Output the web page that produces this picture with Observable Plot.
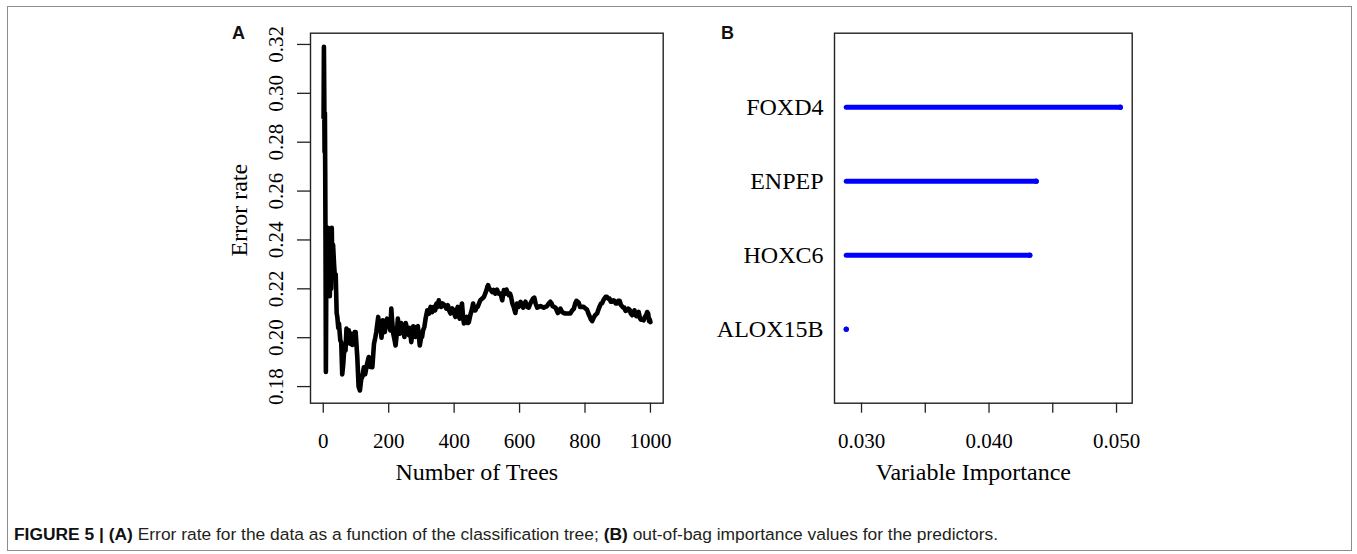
<!DOCTYPE html>
<html>
<head>
<meta charset="utf-8">
<script src="https://cdn.jsdelivr.net/npm/d3@7"></script>
<script src="https://cdn.jsdelivr.net/npm/@observablehq/plot@0.6"></script>
<style>
  body { margin: 0; background: #fff; }
  #fig { position: relative; width: 1357px; height: 554px; overflow: hidden; background: #fff; }
  #border { position: absolute; left: 7px; top: 6px; width: 1345px; height: 545px; border: 1px solid #8c8c8c; box-sizing: border-box; }
  .panel { position: absolute; top: 0; }
  .tag { position: absolute; font: bold 18px "Liberation Sans", Arial, sans-serif; color: #111; line-height: 1; }
  #caption { position: absolute; left: 14px; top: 524px; font: 17.4px "Liberation Sans Narrow", "Liberation Sans", Arial, sans-serif; color: #231f20; white-space: nowrap; line-height: 20px; }
  #caption b { color: #111; }
</style>
</head>
<body>
<div id="fig">
  <div id="border"></div>
  <div class="tag" style="left:232px;top:24px">A</div>
  <div class="tag" style="left:721px;top:24px">B</div>
  <div id="panelA" class="panel" style="left:220px"></div>
  <div id="panelB" class="panel" style="left:700px"></div>
  <div id="caption"><b>FIGURE 5 | (A)</b> Error rate for the data as a function of the classification tree; <b>(B)</b> out-of-bag importance values for the predictors.</div>
</div>
<script>
// Panel A: out-of-bag error rate as trees are added to the forest
const trees = [1,2,3,4,5,6,7,8,9,10,12,14,16,18,20,22,24,26,28,30,33,36,38,41,43,46,48,52,55,58,61,64,68,71,75,78,82,86,89,92,96,99,104,108,112,116,119,124,128,134,139,144,150,155,159,162,168,172,175,178,182,188,192,195,201,205,208,211,214,218,221,225,228,231,234,238,241,245,248,252,255,258,262,265,269,272,275,279,282,286,289,292,295,299,302,305,309,313,318,323,328,333,338,342,346,350,353,356,360,365,371,376,381,385,389,394,399,402,404,408,411,414,417,421,424,427,430,434,438,442,445,449,452,455,458,462,465,469,472,476,480,486,491,495,499,502,504,507,511,516,521,526,531,536,542,547,552,556,560,563,567,571,574,578,582,587,592,597,603,607,611,615,618,623,628,633,638,641,645,649,654,659,664,669,674,679,684,689,694,698,701,706,710,714,717,721,725,730,735,740,745,750,755,760,766,770,774,778,781,785,788,792,796,801,806,810,814,818,822,826,829,833,837,841,845,849,852,856,859,863,867,871,875,879,883,887,890,894,898,902,906,910,913,917,920,924,928,932,936,940,944,948,951,954,957,961,964,968,971,975,979,983,987,990,993,996,998,1000];
const errorRate = [0.290,0.319,0.300,0.276,0.292,0.268,0.235,0.186,0.215,0.244,0.217,0.245,0.222,0.243,0.217,0.240,0.220,0.245,0.225,0.238,0.230,0.224,0.226,0.210,0.2085,0.204,0.2058,0.199,0.198,0.185,0.189,0.195,0.1948,0.2037,0.1985,0.2030,0.1975,0.2016,0.1970,0.1975,0.2023,0.2023,0.1921,0.1800,0.1784,0.1830,0.1838,0.1879,0.1850,0.1893,0.1921,0.1880,0.1879,0.1975,0.2000,0.2023,0.2085,0.2030,0.2044,0.2000,0.2071,0.2023,0.2060,0.2078,0.2058,0.2030,0.2119,0.2060,0.2016,0.1990,0.1968,0.2020,0.2078,0.2040,0.2016,0.2060,0.2044,0.2030,0.2003,0.2060,0.2044,0.2016,0.2010,0.2040,0.1982,0.2016,0.2047,0.2030,0.2003,0.2044,0.2047,0.2010,0.1968,0.2000,0.2003,0.2030,0.2044,0.2080,0.2112,0.2098,0.2126,0.2105,0.2126,0.2112,0.2140,0.2126,0.2153,0.2133,0.2126,0.2140,0.2133,0.2119,0.2133,0.2110,0.2099,0.2120,0.2112,0.2092,0.2085,0.2112,0.2126,0.2100,0.2078,0.2120,0.2140,0.2090,0.2058,0.2080,0.2085,0.2060,0.2064,0.2090,0.2105,0.2120,0.2140,0.2112,0.2112,0.2126,0.2126,0.2140,0.2153,0.2160,0.2167,0.2180,0.2195,0.2210,0.2215,0.2200,0.2197,0.2187,0.2195,0.2180,0.2197,0.2180,0.2181,0.2153,0.2195,0.2180,0.2197,0.2187,0.2174,0.2180,0.2167,0.2140,0.2126,0.2101,0.2140,0.2126,0.2147,0.2133,0.2123,0.2140,0.2147,0.2126,0.2123,0.2140,0.2153,0.2160,0.2164,0.2140,0.2123,0.2126,0.2129,0.2126,0.2123,0.2126,0.2129,0.2140,0.2147,0.2140,0.2129,0.2126,0.2123,0.2110,0.2101,0.2112,0.2119,0.2105,0.2101,0.2099,0.2099,0.2099,0.2099,0.2110,0.2119,0.2140,0.2151,0.2147,0.2142,0.2126,0.2126,0.2126,0.2126,0.2120,0.2115,0.2100,0.2088,0.2075,0.2068,0.2080,0.2088,0.2095,0.2099,0.2115,0.2129,0.2140,0.2140,0.2153,0.2160,0.2167,0.2167,0.2160,0.2160,0.2147,0.2147,0.2153,0.2151,0.2140,0.2140,0.2151,0.2151,0.2133,0.2129,0.2123,0.2123,0.2110,0.2112,0.2119,0.2115,0.2099,0.2092,0.2105,0.2112,0.2095,0.2088,0.2100,0.2105,0.2080,0.2074,0.2074,0.2071,0.2085,0.2092,0.2105,0.2099,0.2068,0.2074,0.2064];
const treeTicks = [0, 200, 400, 600, 800, 1000];
const errorTicks = [0.18, 0.20, 0.22, 0.24, 0.26, 0.28, 0.30, 0.32];
const errorTickLabels = ["0.18", "0.20", "0.22", "0.24", "0.26", "0.28", "0.30", "0.32"];

// Panel B: variable importance of the predictors (top to bottom)
const genes = ["FOXD4", "ENPEP", "HOXC6", "ALOX15B"];
const importance = [0.0503, 0.0437, 0.0432, 0.0288];
const importanceTicks = [0.030, 0.035, 0.040, 0.045, 0.050];
const importanceTickLabels = ["0.030", "", "0.040", "", "0.050"];

const serif = '"Liberation Serif", "Times New Roman", serif';

const errorData = trees.map((t, i) => ({tree: t, err: errorRate[i]}));

const plotA = Plot.plot({
  width: 460,
  height: 500,
  marginLeft: 90,
  marginRight: 17.3,
  marginTop: 32.7,
  marginBottom: 97.3,
  style: {fontFamily: serif, fontSize: "21px", color: "#000", background: "transparent", overflow: "visible"},
  x: {domain: [-39, 1039]},
  y: {domain: [0.1732, 0.3246]},
  marks: [
    Plot.line(errorData, {x: "tree", y: "err", stroke: "#000", strokeWidth: 4.6, strokeLinejoin: "round", strokeLinecap: "round"}),
    Plot.frame({stroke: "#222", strokeWidth: 1.4}),
    Plot.axisX({ticks: treeTicks, tickSize: 10, tickPadding: 19.4, tickFormat: d => String(d), label: null, fontSize: 21, stroke: "#222", strokeWidth: 1.3}),
    Plot.axisY({ticks: errorTicks, tickSize: 13, tickPadding: 15, tickRotate: -90, textAnchor: "middle", lineAnchor: "bottom",
      tickFormat: d => errorTickLabels[errorTicks.indexOf(d)], label: null, fontSize: 21, stroke: "#222", strokeWidth: 1.3}),
    Plot.text(["Number of Trees"], {text: d => d, frameAnchor: "bottom", dx: -10, dy: 77, lineAnchor: "bottom", fontSize: 24}),
    Plot.text(["Error rate"], {text: d => d, frameAnchor: "left", dx: -64, dy: -8, rotate: -90, textAnchor: "middle", lineAnchor: "bottom", fontSize: 24})
  ]
});
document.getElementById("panelA").appendChild(plotA);

const minImportance = d3.min(importance);
const rows = genes.map((g, i) => ({gene: g, value: importance[i], row: genes.length - i}));

const plotB = Plot.plot({
  width: 460,
  height: 500,
  marginLeft: 134,
  marginRight: 28.3,
  marginTop: 32.7,
  marginBottom: 97.3,
  style: {fontFamily: serif, fontSize: "21px", color: "#000", background: "transparent", overflow: "visible"},
  x: {domain: [0.02788, 0.05123]},
  y: {domain: [0, genes.length + 1]},
  marks: [
    Plot.link(rows, {x1: minImportance, x2: "value", y1: "row", y2: "row", stroke: "#0000ff", strokeWidth: 5, strokeLinecap: "round"}),
    Plot.dot(rows, {x: "value", y: "row", r: 2.6, fill: "#0000ff"}),
    Plot.frame({stroke: "#222", strokeWidth: 1.4}),
    Plot.axisX({ticks: importanceTicks, tickSize: 10, tickPadding: 19.4,
      tickFormat: d => importanceTickLabels[importanceTicks.indexOf(d)], label: null, fontSize: 21, stroke: "#222", strokeWidth: 1.3}),
    Plot.axisY({ticks: rows.map(r => r.row), tickSize: 0, tickPadding: 11,
      tickFormat: d => genes[genes.length - d], label: null, fontSize: 24}),
    Plot.text(["Variable Importance"], {text: d => d, frameAnchor: "bottom", dx: -10, dy: 77, lineAnchor: "bottom", fontSize: 24})
  ]
});
document.getElementById("panelB").appendChild(plotB);
</script>
</body>
</html>
